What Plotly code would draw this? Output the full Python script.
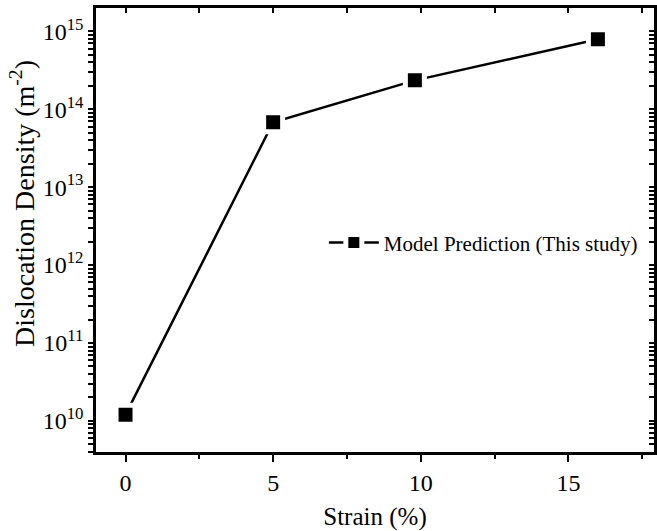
import plotly.graph_objects as go

strain = [0, 5, 9.8, 16]
density = [1.2e10, 6.8e13, 2.35e14, 7.9e14]
series_name = "Model Prediction (This study)"
y_tickvals = [1e10, 1e11, 1e12, 1e13, 1e14, 1e15]
y_ticktext = ["10<sup>10</sup>", "10<sup>11</sup>", "10<sup>12</sup>", "10<sup>13</sup>", "10<sup>14</sup>", "10<sup>15</sup>"]
x_tickvals = [0, 5, 10, 15]
x_minor = [2.5, 7.5, 12.5, 17.5]
y_minor = [m * 10.0 ** k for k in range(9, 16) for m in range(2, 10)]

# left axis: major ticks with labels + unlabeled minor ticks
y_all_vals = y_tickvals + y_minor
y_all_text = y_ticktext + [""] * len(y_minor)

FONT = "Liberation Serif, Times New Roman, serif"

fig = go.Figure()
fig.add_trace(go.Scatter(
    x=strain, y=density, mode="lines+markers", name=series_name,
    line=dict(color="black", width=2.5),
    marker=dict(symbol="square", size=19, color="black", line=dict(color="white", width=5)),
))
# invisible companion trace so the top/right tick axes are drawn
fig.add_trace(go.Scatter(
    x=strain, y=density, xaxis="x2", yaxis="y2", mode="markers",
    marker=dict(opacity=0), showlegend=False, hoverinfo="skip",
))

xr = [-1, 17.9]
yr = [9.6, 15.3]

fig.update_layout(
    width=657, height=531,
    margin=dict(l=96, r=3, t=8, b=79, autoexpand=False),
    paper_bgcolor="white", plot_bgcolor="white",
    font=dict(family=FONT, size=24, color="black"),
    xaxis=dict(range=xr, showgrid=False, zeroline=False, automargin=False,
               showline=True, mirror=True, linecolor="black", linewidth=2.5,
               tickmode="array", tickvals=x_tickvals, ticks="outside", ticklen=7,
               tickwidth=2, tickcolor="black", tickfont=dict(size=24),
               minor=dict(tickmode="array", tickvals=x_minor, ticks="outside", ticklen=4,
                          tickwidth=2, tickcolor="black", showgrid=False),
               title=dict(text="Strain (%)", standoff=16, font=dict(size=25))),
    yaxis=dict(type="log", range=yr, showgrid=False, zeroline=False, automargin=False,
               showline=True, mirror=True, linecolor="black", linewidth=2.5,
               tickmode="array", tickvals=y_all_vals, ticktext=y_all_text, ticks="outside", ticklen=5,
               tickwidth=2, tickcolor="black", tickfont=dict(size=24)),
    xaxis2=dict(range=xr, overlaying="x", side="top", anchor="y2", ticks="inside",
                showticklabels=False, automargin=False, showgrid=False, zeroline=False,
                showline=False, tickvals=x_tickvals + x_minor, ticklen=5, tickwidth=2,
                tickcolor="#000000"),
    yaxis2=dict(type="log", range=yr, overlaying="y", side="right", anchor="x2", ticks="inside",
                showticklabels=False, automargin=False, showgrid=False, zeroline=False,
                showline=False, tickvals=y_all_vals, ticklen=5, tickwidth=2,
                tickcolor="#000000"),
    showlegend=True,
    legend=dict(x=0.98, y=0.471, xanchor="right", yanchor="middle", bgcolor="rgba(0,0,0,0)",
                font=dict(size=21), itemwidth=50),
    annotations=[dict(
        text="Dislocation Density (m<sup>-2</sup>)", textangle=-90,
        xref="paper", yref="paper", x=0, y=0.5586, xshift=-73,
        xanchor="center", yanchor="middle", showarrow=False, font=dict(size=28),
    )],
)

fig.write_html("out.html", config={"displayModeBar": False},
               post_script="document.body.style.margin='0';")
